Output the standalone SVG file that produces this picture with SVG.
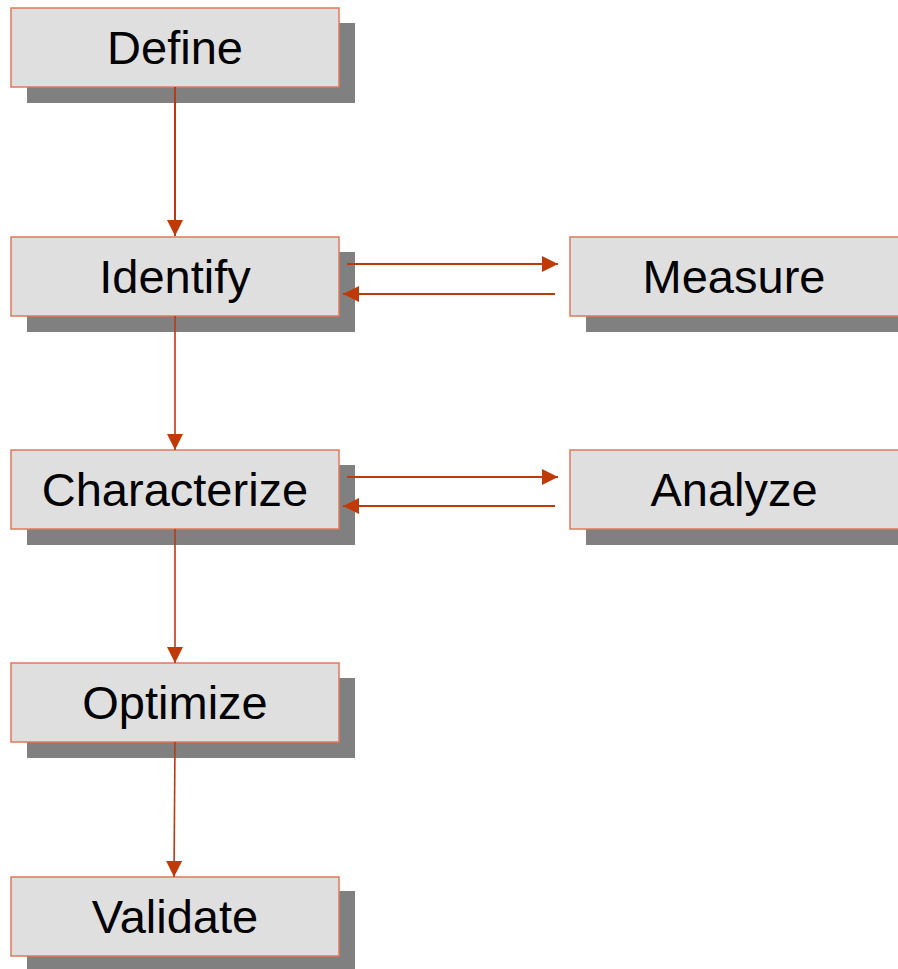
<svg xmlns="http://www.w3.org/2000/svg" width="898" height="969" viewBox="0 0 898 969">
  <style>
    .shadow { fill: #808080; }
    .box { fill: #DFDFDF; stroke: #E0785A; stroke-width: 1.5; }
    .label { font-family: "Liberation Sans", Arial, sans-serif; font-size: 47px; fill: #000; text-anchor: middle; }
    .link { stroke: #C03A08; stroke-width: 1.6; fill: none; }
    .link.bold { stroke-width: 2; }
  </style>
  <defs>
    <marker id="head" viewBox="0 0 16 16" refX="16" refY="8" markerWidth="16" markerHeight="16" markerUnits="userSpaceOnUse" orient="auto">
      <path d="M0,0 L16,8 L0,16 Z" fill="#C03A08"/>
    </marker>
  </defs>

  <rect width="898" height="969" fill="#FFFFFF"/>

  <g id="define">
    <rect class="shadow" x="27" y="23" width="328" height="80"/>
    <rect class="box" x="11" y="8" width="328" height="79"/>
    <text class="label" x="175" y="64">Define</text>
  </g>
  <g id="identify">
    <rect class="shadow" x="27" y="252" width="328" height="80"/>
    <rect class="box" x="11" y="237" width="328" height="79"/>
    <text class="label" x="175" y="293">Identify</text>
  </g>
  <g id="measure">
    <rect class="shadow" x="586" y="252" width="312" height="80"/>
    <rect class="box" x="570" y="237" width="330" height="79"/>
    <text class="label" x="734" y="293">Measure</text>
  </g>
  <g id="characterize">
    <rect class="shadow" x="27" y="465" width="328" height="80"/>
    <rect class="box" x="11" y="450" width="328" height="79"/>
    <text class="label" x="175" y="506">Characterize</text>
  </g>
  <g id="analyze">
    <rect class="shadow" x="586" y="465" width="312" height="80"/>
    <rect class="box" x="570" y="450" width="330" height="79"/>
    <text class="label" x="734" y="506">Analyze</text>
  </g>
  <g id="optimize">
    <rect class="shadow" x="27" y="678" width="328" height="80"/>
    <rect class="box" x="11" y="663" width="328" height="79"/>
    <text class="label" x="175" y="719">Optimize</text>
  </g>
  <g id="validate">
    <rect class="shadow" x="27" y="891" width="328" height="78"/>
    <rect class="box" x="11" y="877" width="328" height="79"/>
    <text class="label" x="175" y="933">Validate</text>
  </g>

  <!-- connectors sit above the drop shadows -->
  <g id="connectors">
    <line class="link bold" x1="175" y1="87" x2="175" y2="236" marker-end="url(#head)"/>
    <line class="link" x1="175" y1="316" x2="175" y2="450" marker-end="url(#head)"/>
    <line class="link" x1="175" y1="529" x2="175" y2="663" marker-end="url(#head)"/>
    <line class="link" x1="175" y1="742" x2="174" y2="877" marker-end="url(#head)"/>
    <line class="link bold" x1="347" y1="264" x2="558" y2="264" marker-end="url(#head)"/>
    <line class="link bold" x1="555" y1="294" x2="343" y2="294" marker-end="url(#head)"/>
    <line class="link bold" x1="347" y1="477" x2="558" y2="477" marker-end="url(#head)"/>
    <line class="link bold" x1="555" y1="506" x2="343" y2="506" marker-end="url(#head)"/>
  </g>
</svg>
